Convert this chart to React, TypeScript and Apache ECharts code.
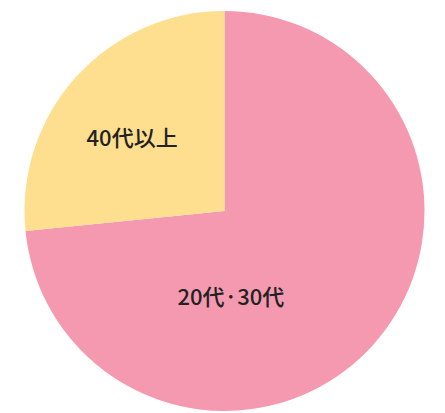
import React, { useEffect, useRef } from "react";
import * as echarts from "echarts";

const categories = ["20代·30代", "40代以上"];
const values = [73.4, 26.6];
const colors = ["#F499B0", "#FEDE8F"];

export default function App() {
  const ref = useRef<HTMLDivElement>(null);
  useEffect(() => {
    if (!ref.current) return;
    const chart = echarts.init(ref.current, undefined, { renderer: "svg" });
    const offsets = [
      [-70, 15],
      [-16, -6],
    ];
    chart.setOption({
      animation: false,
      series: [
        {
          type: "pie",
          center: [224.5, 211],
          radius: 200,
          startAngle: 90,
          clockwise: true,
          avoidLabelOverlap: false,
          labelLine: { show: false },
          label: {
            show: true,
            position: "inside",
            color: "#222",
            fontSize: 22,
            fontWeight: 500,
            fontFamily: "Noto Sans CJK JP",
          },
          data: categories.map((name, i) => ({
            name,
            value: values[i],
            itemStyle: { color: colors[i] },
            label: { offset: offsets[i], formatter: name },
          })),
        },
      ],
    });
    return () => chart.dispose();
  }, []);
  return (
    <div
      ref={ref}
      style={{ position: "absolute", left: 0, top: 0, width: 445, height: 413 }}
    />
  );
}
